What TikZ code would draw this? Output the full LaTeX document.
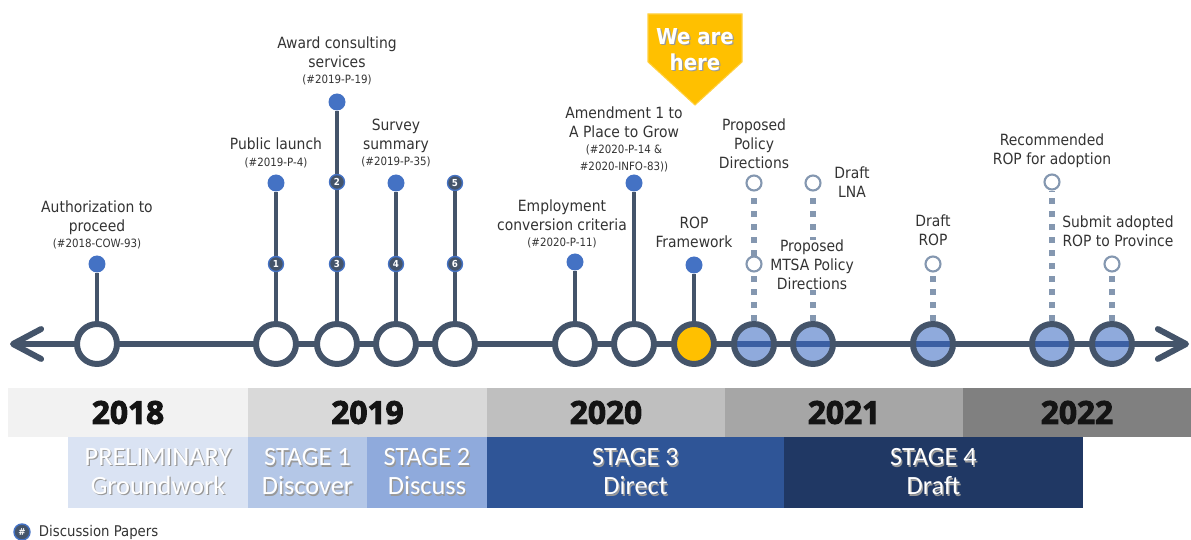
\documentclass[tikz,border=0pt]{standalone}
\usepackage{fontspec}
\setmainfont{DejaVu Sans Condensed}
\newfontfamily\stagefont{Carlito}
\newfontfamily\yearfont{Open Sans}[BoldFeatures={FakeBold=3}]
\usepackage{tikz}
\usetikzlibrary{arrows.meta,positioning}
\definecolor{axisgrey}{HTML}{44546A}
\definecolor{dotblue}{HTML}{4472C4}
\definecolor{planblue}{HTML}{8FAADC}
\definecolor{stripeblue}{HTML}{3B5FA3}
\definecolor{hollowgrey}{HTML}{8497B0}
\definecolor{heregold}{HTML}{FFC000}
\definecolor{prelim}{HTML}{DAE3F3}
\definecolor{stageone}{HTML}{B4C7E7}
\definecolor{stagetwo}{HTML}{8FAADC}
\definecolor{stagethree}{HTML}{2F5597}
\definecolor{stagefour}{HTML}{203864}
\newcommand{\refno}[1]{{\fontsize{6.5}{8}\selectfont #1}}
\newcommand{\shd}[1]{\leavevmode\rlap{\kern0.7pt\raisebox{-0.7pt}{\color{black!40}#1}}#1}
\tikzset{
  milestone/.style={circle, draw=axisgrey, line width=3.4pt, fill=white, minimum size=0.8cm, inner sep=0pt},
  planned/.style={milestone, fill=planblue,
                  path picture={\draw[stripeblue, line width=3pt] (path picture bounding box.west) -- (path picture bounding box.east);}},
  stem/.style={draw=axisgrey, line width=2.8pt},
  dotnode/.style={circle, fill=dotblue, minimum size=0.34cm, inner sep=0pt},
  badge/.style={circle, fill=axisgrey, draw=dotblue, line width=0.8pt, minimum size=0.3cm, inner sep=0pt,
                text=white, font=\fontsize{5.5}{6}\selectfont\bfseries},
  hollow/.style={circle, draw=hollowgrey, line width=1.2pt, fill=white, minimum size=0.3cm, inner sep=0pt},
  dashlink/.style={draw=hollowgrey, line width=3pt, dash pattern=on 3.4pt off 4pt},
  lbl/.style={align=center, font=\fontsize{8.8}{10.8}\selectfont, inner sep=0pt, text=black!80},
  yearband/.style={rectangle, inner sep=0pt, outer sep=0pt, minimum height=0.98cm,
                   font=\yearfont\bfseries\fontsize{18}{18}\selectfont, text=black!92},
  stageband/.style={rectangle, inner sep=0pt, outer sep=0pt, minimum height=1.42cm, align=center,
                    text=white, font=\stagefont\fontsize{15}{16.5}\selectfont},
}

\begin{document}
\begin{tikzpicture}[x=0.02cm, y=-0.02cm]
\useasboundingbox (0,0) rectangle (1191,540);

% timeline axis
\coordinate (tl) at (10,344);
\coordinate (tr) at (1189,344);
\draw[axisgrey, line width=3.4pt, {Straight Barb[length=16pt, width=17pt, round]}-{Straight Barb[length=16pt, width=17pt, round]}] (tl) -- (tr);

% milestones on the axis
\node[milestone] (m1) at (97,344) {};
\node[milestone] (m2) at (276,344) {};
\node[milestone] (m3) at (337,344) {};
\node[milestone] (m4) at (396,344) {};
\node[milestone] (m5) at (455,344) {};
\node[milestone] (m6) at (575,344) {};
\node[milestone] (m7) at (634,344) {};
\node[milestone, fill=heregold] (m8) at (694,344) {};
\node[planned] (m9) at (754,344) {};
\node[planned] (m10) at (813,344) {};
\node[planned] (m11) at (933,344) {};
\node[planned] (m12) at (1052,344) {};
\node[planned] (m13) at (1112,344) {};

% done: solid stems
\node[dotnode] (d1) at (97,264) {};
\node[dotnode] (d2) at (276,183) {};
\node[dotnode] (d3) at (337,102) {};
\node[dotnode] (d4) at (396,183) {};
\node[dotnode] (d6) at (575,262) {};
\node[dotnode] (d7) at (634,183) {};
\node[dotnode] (d8) at (694,265) {};
\node[badge] (b5) at (455,183) {5};
\draw[stem] (m1) -- (d1);
\draw[stem] (m2) -- (d2);
\draw[stem] (m3) -- (d3);
\draw[stem] (m4) -- (d4);
\draw[stem] (m5) -- (b5);
\draw[stem] (m6) -- (d6);
\draw[stem] (m7) -- (d7);
\draw[stem] (m8) -- (d8);
\node[badge] (b1) at (276,264) {1};
\node[badge] (b2) at (337,182) {2};
\node[badge] (b3) at (337,264) {3};
\node[badge] (b4) at (396,264) {4};
\node[badge] (b6) at (455,264) {6};

% to come: dashed stems
\node[hollow] (h9) at (754,183) {};
\node[hollow] (h10) at (813,183) {};
\node[hollow] (h11) at (933,264) {};
\node[hollow] (h12) at (1052,182) {};
\node[hollow] (h13) at (1112,264) {};
\draw[dashlink] (m9) -- (h9);
\draw[dashlink] (m10) -- (h10);
\draw[dashlink] (m11) -- (h11);
\draw[dashlink] (m12) -- (h12);
\draw[dashlink] (m13) -- (h13);
\node[hollow] (h9b) at (754,264) {};

% labels
\node[lbl] (l1) at (97,225) {Authorization to\\proceed\\[-2pt]\refno{(\#2018-COW-93)}};
\node[lbl] (l2) at (276,153) {Public launch\\[-1.2pt]\refno{(\#2019-P-4)}};
\node[lbl] (l3) at (337,61) {Award consulting\\services\\[-1.7pt]\refno{(\#2019-P-19)}};
\node[lbl] (l4) at (396,143) {Survey\\summary\\[-2pt]\refno{(\#2019-P-35)}};
\node[lbl] (l6) at (562,224) {Employment\\conversion criteria\\[-2pt]\refno{(\#2020-P-11)}};
\node[lbl] (l7) at (624,139) {Amendment 1 to\\A Place to Grow\\[-1.7pt]\refno{(\#2020-P-14 \&}\\[-1.2pt]\refno{\#2020-INFO-83))}};
\node[lbl] (l8) at (694,232) {ROP\\Framework};
\node[lbl] (l9) at (754,144) {Proposed\\Policy\\Directions};
\node[lbl] (l10) at (852,182) {Draft\\LNA};
\node[lbl, fill=white] (l9b) at (812,265) {Proposed\\MTSA Policy\\Directions};
\node[lbl] (l11) at (933,230) {Draft\\ROP};
\node[lbl] (l12) at (1052,151) {Recommended\\ROP for adoption};
\node[lbl] (l13) at (1118,231) {Submit adopted\\ROP to Province};

% current position marker
\fill[heregold, draw=heregold!75!white, line width=0.6pt] (648,14) -- (742,14) -- (742,62) -- (695,105) -- (648,62) -- cycle;
\node[font=\bfseries\fontsize{12.5}{14.7}\selectfont, text=white, align=center] (here) at (695,50) {\shd{We are}\\\shd{here}};

% years
\node[yearband, fill=black!5, minimum width=4.8cm] (y18) at (128,412.5) {2018};
\node[yearband, fill=black!15, minimum width=4.78cm] (y19) at (367.5,412.5) {2019};
\node[yearband, fill=black!25, minimum width=4.76cm] (y20) at (606,412.5) {2020};
\node[yearband, fill=black!35, minimum width=4.76cm] (y21) at (844,412.5) {2021};
\node[yearband, fill=black!50, minimum width=4.56cm] (y22) at (1077,412.5) {2022};

% stages
\node[stageband, fill=prelim, minimum width=3.6cm] (s0) at (158,472.5) {\shd{PRELIMINARY}\\\shd{Groundwork}};
\node[stageband, fill=stageone, minimum width=2.38cm] (s1) at (307.5,472.5) {\shd{STAGE 1}\\\shd{Discover}};
\node[stageband, fill=stagetwo, minimum width=2.4cm] (s2) at (427,472.5) {\shd{STAGE 2}\\\shd{Discuss}};
\node[stageband, fill=stagethree, minimum width=5.94cm] (s3) at (635.5,472.5) {\shd{STAGE 3}\\\shd{Direct}};
\node[stageband, fill=stagefour, minimum width=5.98cm] (s4) at (933.5,472.5) {\shd{STAGE 4}\\\shd{Draft}};

% legend
\node[badge, minimum size=0.32cm] (key) at (22,532) {\#};
\node[lbl, right=4.5pt of key, font=\fontsize{8.4}{10}\selectfont] (keytext) {Discussion Papers};
\end{tikzpicture}
\end{document}
